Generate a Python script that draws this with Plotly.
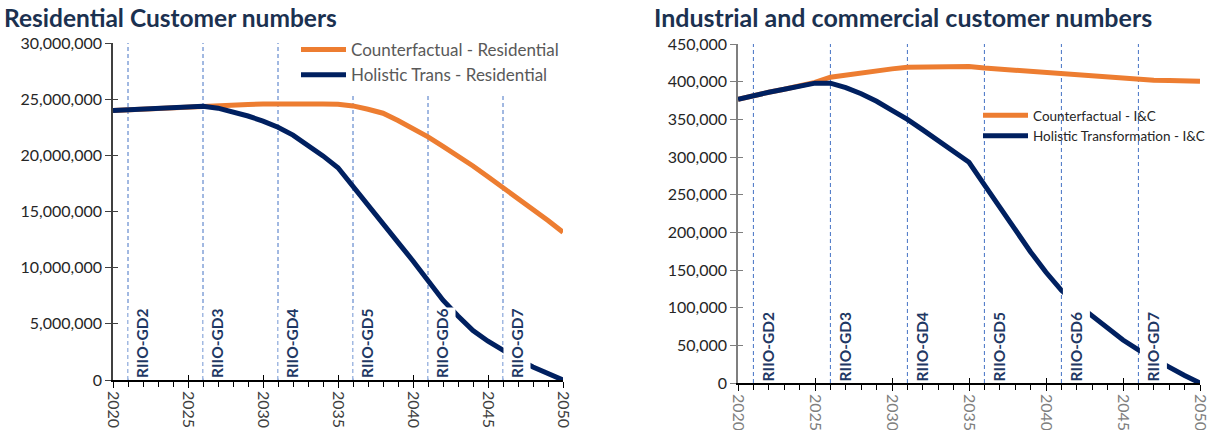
import plotly.graph_objects as go

# ---- data -------------------------------------------------------------
years = list(range(2020, 2051))

res_counterfactual = [
    24.00e6, 24.07e6, 24.14e6, 24.20e6, 24.26e6, 24.32e6, 24.38e6, 24.45e6,
    24.50e6, 24.53e6, 24.57e6, 24.60e6, 24.60e6, 24.60e6, 24.58e6, 24.55e6,
    24.40e6, 24.10e6, 23.75e6, 23.10e6, 22.40e6, 21.65e6, 20.80e6, 19.95e6,
    19.05e6, 18.10e6, 17.15e6, 16.20e6, 15.20e6, 14.20e6, 13.15e6,
]
res_holistic = [
    24.00e6, 24.07e6, 24.14e6, 24.20e6, 24.26e6, 24.32e6, 24.36e6, 24.20e6,
    23.90e6, 23.50e6, 23.05e6, 22.50e6, 21.80e6, 20.90e6, 19.95e6, 18.90e6,
    17.20e6, 15.50e6, 13.90e6, 12.25e6, 10.60e6, 8.80e6, 7.10e6, 5.70e6,
    4.40e6, 3.45e6, 2.60e6, 1.85e6, 1.15e6, 0.55e6, 0.0,
]
ic_counterfactual = [
    376500, 382000, 386000, 390000, 394500, 399000, 406000, 409000,
    412000, 414500, 417000, 419000, 419200, 419500, 419800, 420000,
    418000, 416500, 415000, 413500, 411500, 410000, 408500, 407000,
    405500, 404500, 403000, 402000, 401500, 401000, 400500,
]
ic_holistic = [
    376500, 382000, 386000, 390000, 394500, 398000, 398000, 392000,
    384000, 374000, 362000, 350000, 336000, 322000, 308000, 293000,
    263000, 233000, 203000, 174000, 147000, 123000, 105000, 89000,
    72000, 57000, 44000, 32000, 21000, 10000, 0,
]

period_starts = [2021, 2026, 2031, 2036, 2041, 2046]
period_labels = ["RIIO-GD2", "RIIO-GD3", "RIIO-GD4", "RIIO-GD5", "RIIO-GD6", "RIIO-GD7"]

left_title = "Residential Customer numbers"
right_title = "Industrial and commercial customer numbers"

# ---- styling ----------------------------------------------------------
W, H = 1211, 430
FONT = "Lato"
ORANGE = "#ED7D31"
NAVY = "#002060"
LABEL_NAVY = "#1F3864"
TITLE_COL = "#1B3150"
DASH_BLUE = "#4472C4"


def px_x(p):
    return p / W


def px_y(p):
    return 1 - p / H


fig = go.Figure()

# residential
fig.add_trace(go.Scatter(x=years, y=res_counterfactual, mode="lines",
                         name="Counterfactual - Residential",
                         line=dict(color=ORANGE, width=5),
                         xaxis="x", yaxis="y", legend="legend"))
fig.add_trace(go.Scatter(x=years, y=res_holistic, mode="lines",
                         name="Holistic Trans - Residential",
                         line=dict(color=NAVY, width=5),
                         xaxis="x", yaxis="y", legend="legend"))
# industrial & commercial
fig.add_trace(go.Scatter(x=years, y=ic_counterfactual, mode="lines",
                         name="Counterfactual - I&C",
                         line=dict(color=ORANGE, width=5),
                         xaxis="x2", yaxis="y2", legend="legend2"))
fig.add_trace(go.Scatter(x=years, y=ic_holistic, mode="lines",
                         name="Holistic Transformation - I&C",
                         line=dict(color=NAVY, width=5),
                         xaxis="x2", yaxis="y2", legend="legend2"))

# empty traces that carry the overlay axes used for inward tick marks
fig.add_trace(go.Scatter(x=[], y=[], xaxis="x3", yaxis="y3", showlegend=False, hoverinfo="skip"))
fig.add_trace(go.Scatter(x=[], y=[], xaxis="x4", yaxis="y4", showlegend=False, hoverinfo="skip"))

left_dom_x = [px_x(113), px_x(563)]
right_dom_x = [px_x(738), px_x(1200)]
left_dom_y = [px_y(380), px_y(43)]
right_dom_y = [px_y(383), px_y(44)]

tick_font_y = dict(family=FONT, size=16, color="#262626")


def x_axis(domain, anchor, label_color):
    return dict(domain=domain, anchor=anchor, range=[2020, 2050], tick0=2020, dtick=5,
                tickangle=90, ticks="outside", ticklen=6, tickcolor="#000000", tickwidth=1.3,
                showline=True, linecolor="#000000", linewidth=1.5, showgrid=False, zeroline=False,
                automargin=False, ticklabeloverflow="allow",
                tickfont=dict(family=FONT, size=16, color=label_color),
                minor=dict(dtick=1, tick0=2020, ticks="outside", ticklen=5, tickcolor="#000000",
                           tickwidth=1, showgrid=False))


def y_axis(domain, anchor, rng, dtick, line_color):
    return dict(domain=domain, anchor=anchor, range=rng, dtick=dtick, tickformat=",",
                ticks="outside", ticklen=6, tickcolor=line_color, tickwidth=1.3,
                showline=True, linecolor=line_color, linewidth=1.5, showgrid=False,
                zeroline=False, automargin=False, ticklabeloverflow="allow",
                tickfont=tick_font_y)


def inner_x(overlay, anchor):
    return dict(overlaying=overlay, anchor=anchor, range=[2020, 2050], tick0=2020, dtick=5,
                ticks="inside", ticklen=5, tickcolor="#000000", tickwidth=1.3, automargin=False,
                showticklabels=False, showline=False, showgrid=False, zeroline=False)


def inner_y(overlay, anchor, rng, dtick, color):
    return dict(overlaying=overlay, anchor=anchor, range=rng, dtick=dtick, automargin=False,
                ticks="inside", ticklen=5, tickcolor=color, tickwidth=1.3,
                showticklabels=False, showline=False, showgrid=False, zeroline=False)


shapes = []
annotations = []
# period markers: dashed line at each period start plus a white-backed vertical label
for xa, ya, box_len, x_off in (("x", "y", None, 0), ("x2", "y2", 94, 1)):
    for yr, lab in zip(period_starts, period_labels):
        shapes.append(dict(type="line", xref=xa, yref=f"{ya} domain", x0=yr, x1=yr, y0=0, y1=1,
                           line=dict(color=DASH_BLUE, width=1, dash="4px,3px"), layer="below"))
        ann = dict(text=f"<b>{lab}</b>", x=yr, y=0, xref=xa, yref=ya,
                   xanchor="left", yanchor="bottom", xshift=x_off, yshift=1,
                   textangle=-90, showarrow=False, bgcolor="#FFFFFF",
                   borderpad=0, height=26, align="left",
                   font=dict(family=FONT, size=15.5, color=LABEL_NAVY))
        if box_len:
            ann["width"] = box_len
        annotations.append(ann)

annotations.append(dict(text=f"<b>{left_title}</b>", x=px_x(2), y=px_y(17), xref="paper",
                        yref="paper", xanchor="left", yanchor="middle", showarrow=False,
                        font=dict(family=FONT, size=24.5, color=TITLE_COL)))
annotations.append(dict(text=f"<b>{right_title}</b>", x=px_x(652), y=px_y(17), xref="paper",
                        yref="paper", xanchor="left", yanchor="middle", showarrow=False,
                        font=dict(family=FONT, size=25, color=TITLE_COL)))

fig.update_layout(
    width=W, height=H,
    margin=dict(l=0, r=0, t=0, b=0, pad=0, autoexpand=False),
    paper_bgcolor="#FFFFFF", plot_bgcolor="rgba(0,0,0,0)",
    font=dict(family=FONT),
    xaxis=x_axis(left_dom_x, "y", "#404040"),
    yaxis=y_axis(left_dom_y, "x", [0, 30e6], 5e6, "#404040"),
    xaxis2=x_axis(right_dom_x, "y2", "#7F7F7F"),
    yaxis2=y_axis(right_dom_y, "x2", [0, 450000], 50000, "#7F7F7F"),
    xaxis3=inner_x("x", "y3"),
    yaxis3=inner_y("y", "x3", [0, 30e6], 5e6, "#404040"),
    xaxis4=inner_x("x2", "y4"),
    yaxis4=inner_y("y2", "x4", [0, 450000], 50000, "#7F7F7F"),
    legend=dict(x=px_x(296), y=px_y(32), xanchor="left", yanchor="top",
                bgcolor="#FFFFFF", itemwidth=45, tracegroupgap=0,
                font=dict(family=FONT, size=17, color="#595959")),
    legend2=dict(x=px_x(978), y=px_y(100), xanchor="left", yanchor="top",
                 bgcolor="rgba(0,0,0,0)", itemwidth=45, tracegroupgap=0,
                 font=dict(family=FONT, size=13.5, color="#262626")),
    shapes=shapes,
    annotations=annotations,
    showlegend=True,
)

fig.write_html("out.html")
